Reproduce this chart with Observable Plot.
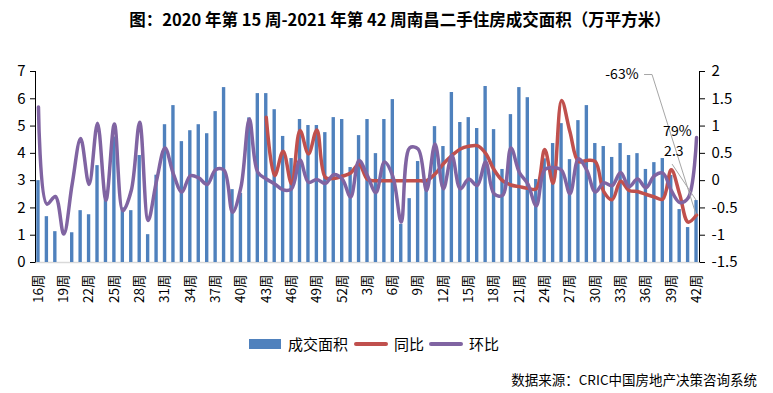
<!DOCTYPE html>
<html>
<head>
<meta charset="utf-8">
<script src="https://cdn.jsdelivr.net/npm/d3@7"></script>
<script src="https://cdn.jsdelivr.net/npm/@observablehq/plot@0.6"></script>
<style>
  body { margin: 0; background: #fff; font-family: "Noto Sans CJK SC", "Noto Sans", sans-serif; color: #000; }
  #wrap { position: relative; width: 773px; height: 393px; overflow: hidden; }
  #title { position: absolute; top: 7px; left: 0; width: 800px; text-align: center; font-size: 16.5px; font-weight: bold; line-height: 24px; }
  #chart { position: absolute; top: 38px; left: 0; }
  #legend { position: absolute; top: 333px; left: 249px; display: flex; align-items: center; font-size: 15px; line-height: 22px; white-space: nowrap; }
  #legend .sw { display: inline-block; }
  #caption { position: absolute; top: 369px; right: 16px; font-size: 13.5px; line-height: 20px; white-space: nowrap; }
</style>
</head>
<body>
<div id="wrap">
  <div id="title">图：2020 年第 15 周-2021 年第 42 周南昌二手住房成交面积（万平方米）</div>
  <div id="chart"></div>
  <div id="legend">
    <span class="sw" style="width:32px;height:10px;background:#4F81BD;margin-right:7px"></span><span>成交面积</span>
    <span class="sw" style="width:34px;height:4px;border-radius:2px;background:#C0504D;margin:0 6px 0 6px"></span><span>同比</span>
    <span class="sw" style="width:34px;height:4px;border-radius:2px;background:#8064A2;margin:0 6px 0 5px"></span><span>环比</span>
  </div>
  <div id="caption">数据来源：CRIC中国房地产决策咨询系统</div>
</div>
<script>
// ---- data ----
const weeks = [
  "16周","17周","18周","19周","20周","21周","22周","23周","24周","25周",
  "26周","27周","28周","29周","30周","31周","32周","33周","34周","35周",
  "36周","37周","38周","39周","40周","41周","42周","43周","44周","45周",
  "46周","47周","48周","49周","50周","51周","52周",
  "1周","2周","3周","4周","5周","6周","7周","8周","9周","10周",
  "11周","12周","13周","14周","15周","16周","17周","18周","19周","20周",
  "21周","22周","23周","24周","25周","26周","27周","28周","29周","30周",
  "31周","32周","33周","34周","35周","36周","37周","38周","39周","40周",
  "41周","42周"
];
// 成交面积 (万平方米)
const area = [
  3.0, 1.68, 1.13, 0, 1.09, 1.90, 1.75, 3.55, 2.3, 4.6,
  2.0, 1.9, 3.92, 1.02, 3.2, 5.05, 5.75, 4.43, 4.83, 5.05,
  4.72, 5.53, 6.41, 2.67, 2.53, 5.3, 6.19, 6.19, 5.6, 4.62,
  3.81, 5.24, 5.02, 5.02, 4.76, 5.31, 5.24,
  3.48, 4.65, 5.24, 3.99, 5.24, 5.97, 1.4, 2.34, 3.70, 3.0,
  4.98, 4.25, 6.23, 5.13, 5.31, 4.91, 6.45, 4.87, 3.41, 5.42,
  6.41, 6.04, 3.04, 3.8, 4.36, 5.09, 3.77, 5.20, 5.75, 4.36,
  4.25, 3.85, 4.36, 3.92, 3.99, 3.41, 3.66, 3.81, 3.19, 1.94,
  1.28, 2.27
];
// 同比 (starts at 2020 week 43)
const tongbi = [
  null, null, null, null, null, null, null, null, null, null,
  null, null, null, null, null, null, null, null, null, null,
  null, null, null, null, null, null, null, 1.16, 0.09, 0.54,
  -0.06, 0.92, 0.49, 0.93, 0.06, 0.04, 0.08,
  0.14, 0.30, 0.02, 0.0, 0.0, 0.0, 0.0, 0.0, 0.0, 0.0,
  0.12, 0.31, 0.46, 0.58, 0.63, 0.64, 0.50, 0.20, 0.0, -0.08,
  -0.11, -0.14, -0.15, 0.57, -0.05, 1.47, 0.89, 0.35, 0.37, 0.35,
  -0.20, -0.35, -0.01, -0.18, -0.20, -0.25, -0.30, -0.34, 0.20, -0.25,
  -0.76, -0.63
];
// 环比
const huanbi = [
  1.35, -0.43, -0.29, -0.98, -0.06, 0.77, -0.07, 1.05, -0.36, 1.04,
  -0.55, -0.18, 1.07, -0.73, 0.0, 0.60, 0.12, -0.21, 0.09, 0.05,
  -0.07, 0.20, 0.19, -0.58, -0.12, 1.13, 0.15, 0.03, -0.06, -0.17,
  -0.15, 0.38, -0.03, 0.02, -0.05, 0.11, 0.03,
  -0.30, 0.37, 0.09, -0.22, 0.34, 0.08, -0.76, 0.60, 0.58, -0.18,
  0.67, -0.15, 0.46, -0.15, 0.03, -0.09, 0.34, -0.24, -0.27, 0.60,
  0.15, -0.06, -0.46, 0.20, 0.24, 0.19, -0.24, 0.40, 0.19, -0.21,
  -0.04, -0.09, 0.15, -0.11, 0.03, -0.13, 0.09, 0.14, -0.18, -0.40,
  -0.32, 0.79
];
const leftTicks = [0, 1, 2, 3, 4, 5, 6, 7];
const rightTicks = [-1.5, -1, -0.5, 0, 0.5, 1, 1.5, 2];

// ---- build ----
const BLUE = "#4F81BD", RED = "#C0504D", PURPLE = "#8064A2";
const R0 = -1.5, R1 = 2, L0 = 0, L1 = 7;
const toL = v => L0 + (v - R0) * (L1 - L0) / (R1 - R0);
const fromL = y => R0 + (y - L0) * (R1 - R0) / (L1 - L0);
const idx = weeks.map((_, i) => i);
const rows = idx.map(i => ({
  i, area: area[i], hb: toL(huanbi[i]),
  tb: tongbi[i] == null ? null : toL(tongbi[i])
}));
const last = rows[rows.length - 1];
const pct = v => Math.round(v * 100) + "%";
const fmtR = v => String(Math.round(v * 10) / 10);
const FONT = '"Noto Sans CJK SC", "Noto Sans", sans-serif';

function bandCenter(scales, i) {
  const x = scales.x;
  const bw = typeof x.bandwidth === "function" ? x.bandwidth() : 0;
  return x(i) + bw / 2;
}

const axisLines = (index, scales, values, dims) => {
  const g = d3.create("svg:g");
  const x0 = dims.marginLeft, x1 = dims.width - dims.marginRight;
  const y0 = dims.marginTop, y1 = dims.height - dims.marginBottom;
  g.append("line").attr("x1", x0 + 0.5).attr("x2", x0 + 0.5).attr("y1", y0).attr("y2", y1 + 0.5).attr("stroke", "#000");
  g.append("line").attr("x1", x1 + 0.5).attr("x2", x1 + 0.5).attr("y1", y0).attr("y2", y1 + 0.5).attr("stroke", "#000");
  return g.node();
};

const leaders = (index, scales, values, dims) => {
  const g = d3.create("svg:g").attr("fill", "none").attr("stroke", "#A6A6A6").attr("stroke-width", 1);
  const px = bandCenter(scales, last.i);
  const ytb = scales.y(last.tb);
  const ybar = scales.y(last.area);
  g.append("path").attr("d", `M${px},${ytb}L${px - 44},${ytb - 140}L${px - 52},${ytb - 140}`);
  g.append("path").attr("d", `M${px},${ybar}L${px - 24},${ybar - 36}`);
  return g.node();
};

const chart = Plot.plot({
  width: 773,
  height: 280,
  marginTop: 33,
  marginBottom: 56,
  marginLeft: 35,
  marginRight: 74,
  style: { fontFamily: FONT, fontSize: "14px", color: "#000", background: "#fff", overflow: "visible" },
  x: { type: "band", domain: idx, paddingInner: 0.6, paddingOuter: 0.15, label: null },
  y: { domain: [L0, L1], label: null },
  marks: [
    Plot.ruleY([0], { stroke: "#D9D9D9", strokeWidth: 1.5 }),
    Plot.barY(rows, { x: "i", y: "area", fill: BLUE }),
    Plot.line(rows.filter(d => d.tb != null), { x: "i", y: "tb", stroke: RED, strokeWidth: 3.5, curve: "catmull-rom", strokeLinejoin: "round", strokeLinecap: "round" }),
    Plot.line(rows, { x: "i", y: "hb", stroke: PURPLE, strokeWidth: 3.5, curve: "catmull-rom", strokeLinejoin: "round", strokeLinecap: "round" }),
    axisLines,
    Plot.axisX(idx.filter(i => i % 3 === 0), { tickFormat: i => weeks[i], tickRotate: -90, tickSize: 0, tickPadding: 12, fontSize: 13.5, label: null }),
    Plot.axisY(leftTicks, { anchor: "left", tickSize: 5, tickPadding: 5, fontSize: 15, tickFormat: d => String(d), label: null }),
    Plot.axisY(rightTicks.map(toL), { anchor: "right", tickSize: 5, tickPadding: 7, fontSize: 15, tickFormat: v => fmtR(fromL(v)), textAnchor: "start", label: null }),
    leaders,
    Plot.text([last], { x: "i", y: "tb", text: d => pct(fromL(d.tb)), dx: -58, dy: -141, textAnchor: "end", fontSize: 14 }),
    Plot.text([last], { x: "i", y: "hb", text: d => pct(fromL(d.hb)), dx: -5, dy: -6, textAnchor: "end", fontSize: 14 }),
    Plot.text([last], { x: "i", y: "area", text: d => d.area.toFixed(1), dx: -13, dy: -49, textAnchor: "end", fontSize: 14 })
  ]
});
document.getElementById("chart").appendChild(chart);
</script>
</body>
</html>
